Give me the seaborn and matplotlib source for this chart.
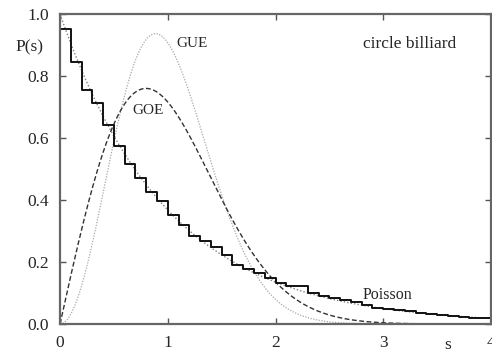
import numpy as np
import pandas as pd
import matplotlib
matplotlib.use("Agg")
import matplotlib.pyplot as plt
import seaborn as sns

# Nearest-neighbour spacing histogram for the circle billiard (bin width 0.1)
bin_edges = [round(0.1 * i, 1) for i in range(41)]
hist_heights = [
    0.951, 0.846, 0.755, 0.712, 0.642, 0.574, 0.516, 0.472, 0.427, 0.398,
    0.352, 0.319, 0.284, 0.269, 0.248, 0.223, 0.192, 0.176, 0.165, 0.148,
    0.132, 0.124, 0.124, 0.101, 0.091, 0.085, 0.077, 0.072, 0.061, 0.053,
    0.050, 0.046, 0.041, 0.037, 0.033, 0.030, 0.027, 0.024, 0.021, 0.019,
]

x_ticks = [0, 1, 2, 3, 4]
y_ticks = [0.0, 0.2, 0.4, 0.6, 0.8, 1.0]
y_tick_labels = ["0.0", "0.2", "0.4", "0.6", "0.8", "1.0"]

# Reference distributions: Poisson and the Wigner surmise for GOE / GUE
s = np.linspace(0, 4, 400)
poisson = np.exp(-s)
goe = (np.pi / 2) * s * np.exp(-np.pi * s**2 / 4)
gue = (32 / np.pi**2) * s**2 * np.exp(-4 * s**2 / np.pi)

sns.set_style("ticks")
plt.rcParams["font.family"] = ["Liberation Serif", "DejaVu Serif"]

fig = plt.figure(figsize=(4.92, 3.52), dpi=100)
ax = fig.add_axes([0.122, 0.0795, 0.876, 0.8805])

curves = pd.DataFrame({"s": s, "poisson": poisson, "goe": goe, "gue": gue})
sns.lineplot(data=curves, x="s", y="gue", ax=ax, color="#a8a8a8",
             linestyle=(0, (1, 1.2)), linewidth=0.9)
sns.lineplot(data=curves, x="s", y="goe", ax=ax, color="#333333",
             linestyle=(0, (3.5, 1.8)), linewidth=1.0)
sns.lineplot(data=curves, x="s", y="poisson", ax=ax, color="#808080",
             linestyle=(0, (1, 1.5)), linewidth=1.0)

hist = pd.DataFrame({"s": bin_edges, "p": hist_heights + [hist_heights[-1]]})
sns.lineplot(data=hist, x="s", y="p", ax=ax, color="#111111",
             drawstyle="steps-post", linewidth=1.4)

ax.set_xlim(0, 4)
ax.set_ylim(0, 1.0)
ax.set_xticks(x_ticks)
ax.set_yticks(y_ticks)
ax.set_yticklabels(y_tick_labels)
ax.set_xlabel("")
ax.set_ylabel("")

ax.tick_params(direction="in", length=4, width=1.0, color="#555555",
               labelsize=12.5, top=True, right=True)
ax.tick_params(axis="y", pad=8)
ax.tick_params(axis="x", pad=8)
for side in ["top", "right"]:
    ax.spines[side].set_visible(True)
for sp in ax.spines.values():
    sp.set_color("#666666")
    sp.set_linewidth(1.6)

ax.text(-0.072, 0.894, "P(s)", transform=ax.transAxes, ha="center",
        va="center", fontsize=12.5)
ax.text(3.6, -0.068, "s", transform=ax.get_xaxis_transform(), ha="center",
        va="center", fontsize=12.5)

ax.text(1.23, 0.905, "GUE", ha="center", va="center", fontsize=11)
ax.text(0.82, 0.69, "GOE", ha="center", va="center", fontsize=11)
ax.text(3.24, 0.905, "circle billiard", ha="center", va="center", fontsize=12.5)
ax.text(3.04, 0.094, "Poisson", ha="center", va="center", fontsize=11.5)

fig.savefig("out.png", dpi=100, facecolor="white")
